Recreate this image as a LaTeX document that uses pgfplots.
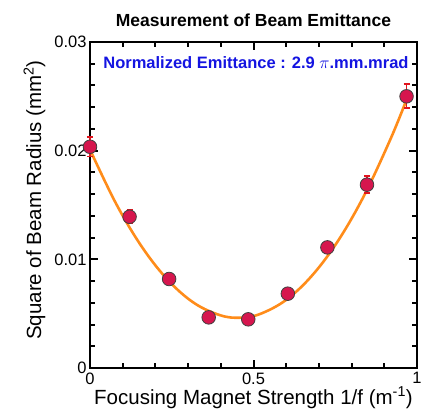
\documentclass[border=0pt]{standalone}
\usepackage{pgfplots}
\pgfplotsset{compat=1.18}
\usepackage{fontspec}
\setmainfont{Liberation Sans}
\definecolor{ptfill}{RGB}{214,22,78}
\definecolor{fitorange}{RGB}{255,140,26}
\definecolor{ebred}{RGB}{225,20,30}
\definecolor{txtblue}{RGB}{20,20,225}
\begin{document}
\begin{tikzpicture}
\begin{axis}[
  at={(0pt,0pt)}, anchor=south west,
  scale only axis, width=327pt, height=326pt,
  xmin=0, xmax=1, ymin=0, ymax=0.03,
  scaled y ticks=false, scaled x ticks=false,
  xtick={0,0.5,1}, xticklabels={0,0.5,1},
  minor xtick={0.1,0.2,0.3,0.4,0.6,0.7,0.8,0.9},
  ytick={0,0.01,0.02,0.03}, yticklabels={0,0.01,0.02,0.03},
  minor ytick={0.002,0.004,0.006,0.008,0.012,0.014,0.016,0.018,0.022,0.024,0.026,0.028},
  xtick pos=both, ytick pos=both,
  tick align=inside,
  major tick length=8pt, minor tick length=5pt,
  every tick/.style={black, line width=2pt},
  every minor tick/.style={black, line width=2pt},
  axis line style={line width=1.6pt},
  tick label style={font=\fontsize{16.5}{18}\selectfont},
  /pgf/number format/assume math mode=true,
  xticklabel style={yshift=-1pt},
  title={\bfseries Measurement of Beam Emittance},
  title style={font=\fontsize{17.5}{19}\selectfont, yshift=6pt},
  xlabel={Focusing Magnet Strength 1/f (m\textsuperscript{-1})},
  ylabel={Square of Beam Radius (mm\textsuperscript{2})},
  label style={font=\fontsize{20.5}{22}\selectfont},
  xlabel style={yshift=4pt},
  ylabel style={yshift=2pt, xshift=5pt},
  clip=false,
]
\addplot[fitorange, line width=2.6pt, smooth, tension=0.6] coordinates {
  (0,0.02010) (0.08,0.01511) (0.16,0.01109) (0.24,0.00804) (0.32,0.00595)
  (0.40,0.00484) (0.46,0.00463) (0.52,0.00497) (0.60,0.00627) (0.68,0.00854)
  (0.76,0.01177) (0.84,0.01597) (0.92,0.02114) (0.968,0.02470)
};
\addplot[ebred, line width=1.8pt, only marks, mark=none,
  error bars/.cd, y dir=both, y explicit,
  error bar style={ebred, line width=1.8pt},
  error mark options={ebred, line width=1.8pt, mark size=3pt, rotate=90}]
  coordinates {
  (0,0.02036) +- (0,0.0009)
  (0.121,0.01392) +- (0,0.0006)
  (0.242,0.00819) +- (0,0.0004)
  (0.363,0.00466) +- (0,0.0003)
  (0.484,0.00448) +- (0,0.0003)
  (0.605,0.00684) +- (0,0.0004)
  (0.726,0.01110) +- (0,0.0005)
  (0.847,0.01687) +- (0,0.0008)
  (0.968,0.02500) +- (0,0.0011)
};
\addplot[only marks, mark=*, mark size=6.8pt,
  mark options={fill=ptfill, draw=black!75, line width=0.8pt}]
  coordinates {
  (0,0.02036) (0.121,0.01392) (0.242,0.00819) (0.363,0.00466) (0.484,0.00448)
  (0.605,0.00684) (0.726,0.01110) (0.847,0.01687) (0.968,0.02500)
};
\node[anchor=west, text=txtblue, font=\bfseries\fontsize{16.5}{18}\selectfont]
  at (axis cs:0.03,0.0281) {Normalized Emittance : 2.9 $\pi$.mm.mrad};
\end{axis}
\pgfresetboundingbox
\useasboundingbox (-90pt,-50pt) rectangle (340pt,368pt);
\end{tikzpicture}
\end{document}
